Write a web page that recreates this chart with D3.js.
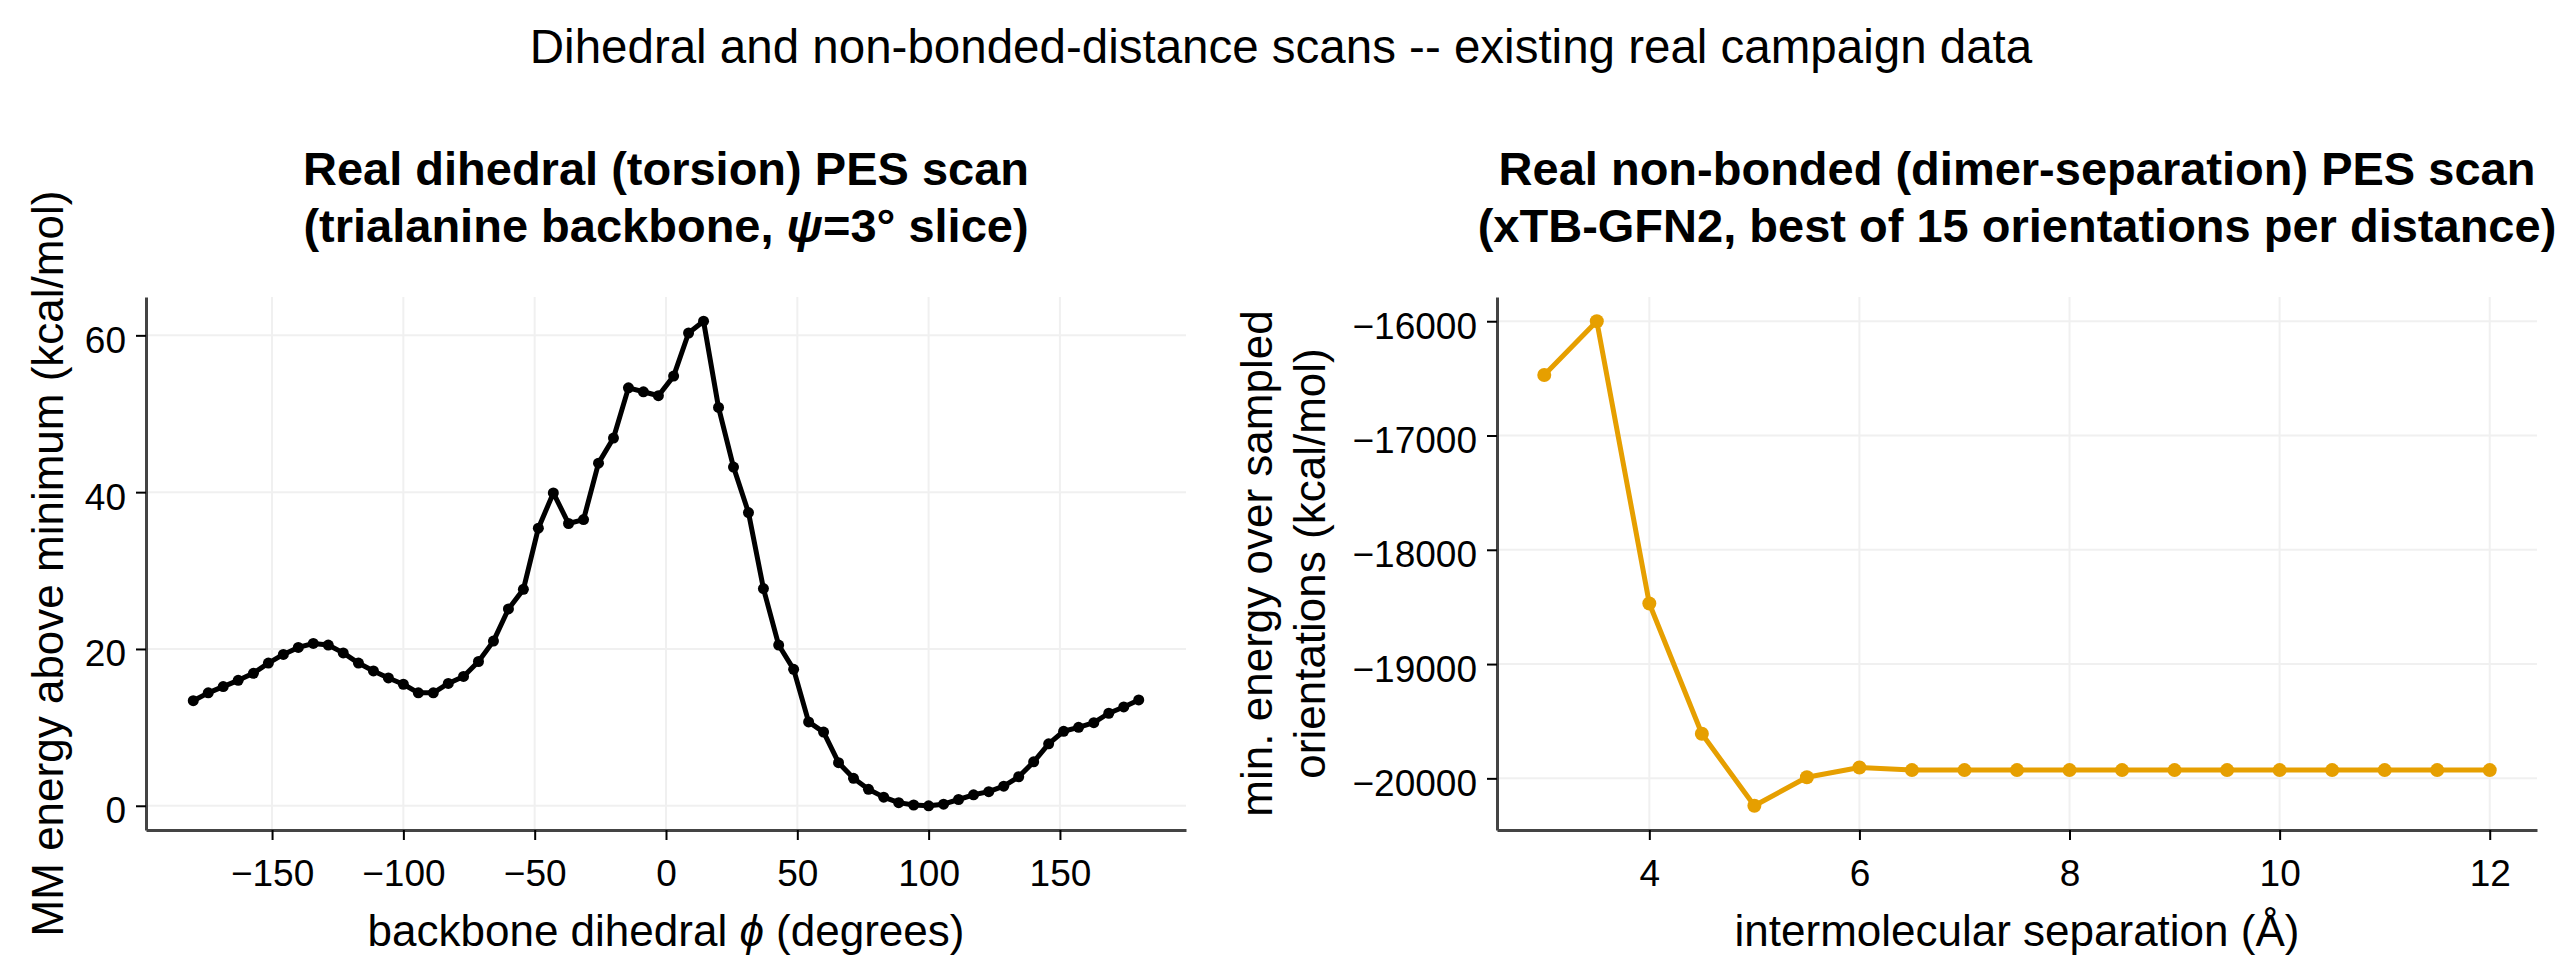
<!DOCTYPE html>
<html>
<head>
<meta charset="utf-8">
<script src="https://cdn.jsdelivr.net/npm/d3@7"></script>
<style>
  body { margin: 0; background: #fff; }
  svg { display: block; font-family: "Liberation Sans", Arial, Helvetica, sans-serif; }
</style>
</head>
<body>
<script>
// dihedral scan: backbone phi (degrees) and MM energy above minimum (kcal/mol)
var phiDeg = [-180.0, -174.3, -168.6, -162.9, -157.1, -151.4, -145.7, -140.0, -134.3, -128.6,
              -122.9, -117.1, -111.4, -105.7, -100.0, -94.3, -88.6, -82.9, -77.1, -71.4,
              -65.7, -60.0, -54.3, -48.6, -42.9, -37.1, -31.4, -25.7, -20.0, -14.3,
              -8.6, -2.9, 2.9, 8.6, 14.3, 20.0, 25.7, 31.4, 37.1, 42.9,
              48.6, 54.3, 60.0, 65.7, 71.4, 77.1, 82.9, 88.6, 94.3, 100.0,
              105.7, 111.4, 117.1, 122.9, 128.6, 134.3, 140.0, 145.7, 151.4, 157.1,
              162.9, 168.6, 174.3, 180.0];
var mmEnergy = [13.4, 14.4, 15.2, 16.0, 16.9, 18.2, 19.3, 20.2, 20.7, 20.5,
                19.5, 18.2, 17.2, 16.3, 15.5, 14.4, 14.4, 15.6, 16.5, 18.4,
                21.0, 25.1, 27.6, 35.4, 39.9, 36.0, 36.5, 43.7, 46.9, 53.3,
                52.8, 52.3, 54.8, 60.3, 61.8, 50.8, 43.2, 37.4, 27.7, 20.5,
                17.4, 10.7, 9.4, 5.5, 3.5, 2.1, 1.1, 0.4, 0.1, 0.0,
                0.2, 0.8, 1.4, 1.8, 2.5, 3.7, 5.6, 7.9, 9.5, 10.0,
                10.6, 11.8, 12.6, 13.5];

// dimer separation scan: distance (angstrom) and min energy (kcal/mol)
var sepAng = [3.0, 3.5, 4.0, 4.5, 5.0, 5.5, 6.0, 6.5, 7.0, 7.5,
              8.0, 8.5, 9.0, 9.5, 10.0, 10.5, 11.0, 11.5, 12.0];
var minEnergy = [-16470, -16000, -18470, -19610, -20240, -19990, -19905, -19928, -19928, -19928,
                 -19928, -19928, -19928, -19928, -19928, -19928, -19928, -19928, -19928];

var phiTicks = [-150, -100, -50, 0, 50, 100, 150];
var mmTicks = [0, 20, 40, 60];
var sepTicks = [4, 6, 8, 10, 12];
var minTicks = [-20000, -19000, -18000, -17000, -16000];

var w = 2576;
var h = 978;

var svg = d3.select("body")
            .append("svg")
            .attr("width", w)
            .attr("height", h);

svg.append("rect").attr("width", w).attr("height", h).attr("fill", "#fff");

// figure title
svg.append("text")
    .attr("x", 1281)
    .attr("y", 63)
    .attr("text-anchor", "middle")
    .attr("font-size", 47.5)
    .attr("fill", "#000")
    .text("Dihedral and non-bonded-distance scans -- existing real campaign data");

// matplotlib style 5% margins
function padded(vals) {
    var ext = d3.extent(vals);
    var m = (ext[1] - ext[0]) * 0.05;
    return [ext[0] - m, ext[1] + m];
}

function drawPanel(opt) {
    var g = svg.append("g")
               .attr("transform", "translate(" + opt.left + "," + opt.top + ")");
    var pw = opt.width, ph = opt.height;

    var xScale = d3.scaleLinear().domain(padded(opt.xs)).range([0, pw]);
    var yScale = d3.scaleLinear().domain(padded(opt.ys)).range([ph, 0]);

    // grid
    g.append("g").selectAll("line")
        .data(opt.xTicks).enter().append("line")
        .attr("x1", function(d) { return xScale(d); })
        .attr("x2", function(d) { return xScale(d); })
        .attr("y1", 0).attr("y2", ph)
        .attr("stroke", "#f0f0f0").attr("stroke-width", 2);
    g.append("g").selectAll("line")
        .data(opt.yTicks).enter().append("line")
        .attr("y1", function(d) { return yScale(d); })
        .attr("y2", function(d) { return yScale(d); })
        .attr("x1", 0).attr("x2", pw)
        .attr("stroke", "#f0f0f0").attr("stroke-width", 2);

    // axes
    var xAxis = d3.axisBottom(xScale)
                  .tickValues(opt.xTicks)
                  .tickFormat(d3.format("d"))
                  .tickSize(10).tickSizeOuter(0).tickPadding(20);
    var gx = g.append("g")
              .attr("transform", "translate(0," + ph + ")")
              .call(xAxis);

    var yAxis = d3.axisLeft(yScale)
                  .tickValues(opt.yTicks)
                  .tickFormat(d3.format("d"))
                  .tickSize(10).tickSizeOuter(0).tickPadding(10);
    var gy = g.append("g").call(yAxis);

    [gx, gy].forEach(function(a) {
        a.attr("font-family", null).attr("font-size", 37);
        a.select(".domain").attr("stroke", "#444").attr("stroke-width", 3);
        a.selectAll(".tick line").attr("stroke", "#000").attr("stroke-width", 2);
        a.selectAll(".tick text").attr("fill", "#000");
    });
    gy.selectAll(".tick text").attr("dy", "0.46em");

    // line + markers
    var pts = opt.xs.map(function(d, i) { return [d, opt.ys[i]]; });
    var line = d3.line()
                 .x(function(d) { return xScale(d[0]); })
                 .y(function(d) { return yScale(d[1]); });
    g.append("path")
        .datum(pts)
        .attr("d", line)
        .attr("fill", "none")
        .attr("stroke", opt.color)
        .attr("stroke-width", 5)
        .attr("stroke-linejoin", "round");
    g.append("g").selectAll("circle")
        .data(pts).enter().append("circle")
        .attr("cx", function(d) { return xScale(d[0]); })
        .attr("cy", function(d) { return yScale(d[1]); })
        .attr("r", opt.r)
        .attr("fill", opt.color);

    // titles
    var t = g.append("text")
             .attr("text-anchor", "middle")
             .attr("font-size", 47)
             .attr("font-weight", "bold")
             .attr("fill", "#000");
    opt.title.forEach(function(lineParts, li) {
        var ts = t.append("tspan").attr("x", pw / 2).attr("y", 185 - opt.top + li * 57);
        lineParts.forEach(function(p) {
            ts.append("tspan").attr("font-style", p.it ? "italic" : null).text(p.s);
        });
    });

    // x label
    var xl = g.append("text")
              .attr("x", pw / 2)
              .attr("y", 946 - opt.top)
              .attr("text-anchor", "middle")
              .attr("font-size", 44)
              .attr("fill", "#000");
    opt.xLabel.forEach(function(p) {
        xl.append("tspan").attr("font-style", p.it ? "italic" : null).text(p.s);
    });

    // y label
    var yl = g.append("text")
              .attr("transform", "rotate(-90)")
              .attr("text-anchor", "middle")
              .attr("font-size", 44)
              .attr("fill", "#000");
    opt.yLabel.forEach(function(s, li) {
        yl.append("tspan")
          .attr("x", -ph / 2)
          .attr("y", opt.yLabelX[li] - opt.left)
          .text(s);
    });
}

drawPanel({
    left: 146, top: 297, width: 1040, height: 533,
    xs: phiDeg, ys: mmEnergy, xTicks: phiTicks, yTicks: mmTicks,
    color: "#000", r: 5.5,
    title: [[{s: "Real dihedral (torsion) PES scan"}],
            [{s: "(trialanine backbone, "}, {s: "\u03c8", it: true}, {s: "=3\u00b0 slice)"}]],
    xLabel: [{s: "backbone dihedral "}, {s: "\u03d5", it: true}, {s: " (degrees)"}],
    yLabel: ["MM energy above minimum (kcal/mol)"],
    yLabelX: [63]
});

drawPanel({
    left: 1497, top: 297, width: 1040, height: 533,
    xs: sepAng, ys: minEnergy, xTicks: sepTicks, yTicks: minTicks,
    color: "#e69f00", r: 7,
    title: [[{s: "Real non-bonded (dimer-separation) PES scan"}],
            [{s: "(xTB-GFN2, best of 15 orientations per distance)"}]],
    xLabel: [{s: "intermolecular separation (\u00c5)"}],
    yLabel: ["min. energy over sampled", "orientations (kcal/mol)"],
    yLabelX: [1272, 1325]
});
</script>
</body>
</html>
